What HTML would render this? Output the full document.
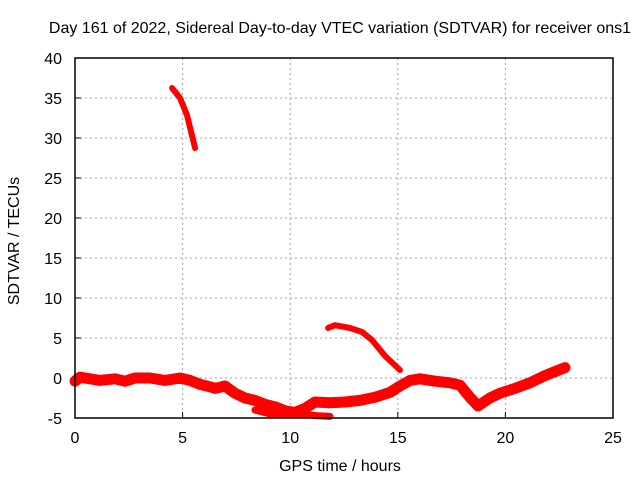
<!DOCTYPE html>
<html><head><meta charset="utf-8"><style>
body{margin:0;background:#fff}
text{font-family:"Liberation Sans",sans-serif;font-size:16px;fill:#000}
</style></head><body>
<svg id="c" width="640" height="480"></svg>
<script>
const xTicks=[0,5,10,15,20,25];
const yTicks=[-5,0,5,10,15,20,25,30,35,40];
const mainT=[0,0.23,0.7,1.16,1.86,2.32,2.79,3.49,4.18,4.88,5.34,5.81,6.27,6.51,6.97,7.43,7.9,8.36,8.83,9.29,9.76,10.22,10.69,11.15,11.85,12.55,13.24,13.94,14.64,15.1,15.57,16.03,16.73,17.43,17.89,18.35,18.73,19.28,19.75,20.45,21.14,21.84,22.3,22.77];
const mainV=[-0.4,0.1,-0.1,-0.3,-0.1,-0.4,0,0,-0.3,0,-0.3,-0.8,-1.1,-1.3,-1.0,-1.9,-2.5,-2.8,-3.3,-3.6,-4.1,-4.3,-3.8,-3.0,-3.1,-3.0,-2.8,-2.4,-1.8,-1.0,-0.3,-0.1,-0.4,-0.6,-0.9,-2.4,-3.5,-2.5,-1.9,-1.3,-0.6,0.3,0.8,1.3];
const lowT=[8.36,9.06,10.46,11.2,11.85];
const lowV=[-4.0,-4.5,-4.5,-4.7,-4.8];
const arcT=[11.76,12.08,12.78,13.34,13.8,14.41,15.1];
const arcV=[6.25,6.6,6.25,5.75,4.75,2.75,1.0];
const topT=[4.51,4.88,5.2,5.58];
const topV=[36.25,35.0,32.9,28.75];
const L=75,R=613,T=58,B=418;
const X=t=>L+(t-0)/25*(R-L);
const Y=v=>B-(v+5)/45*(B-T);
const svg=document.getElementById('c');
const NS='http://www.w3.org/2000/svg';
function mk(tag,attrs,parent){const e=document.createElementNS(NS,tag);for(const k in attrs)e.setAttribute(k,attrs[k]);(parent||svg).appendChild(e);return e;}
xTicks.forEach(t=>{
 if(t>0&&t<25){const g=mk('line',{x1:X(t),x2:X(t),y1:T,y2:B,stroke:'#a0a0a0','stroke-dasharray':'2,3'});
 
 }
 const tk=mk('line',{x1:X(t),x2:X(t),y1:B,y2:B-6,stroke:'#000'});
 
 
 const lb=mk('text',{x:X(t),y:B+25,'text-anchor':'middle'});lb.textContent=t;
 
 
});
yTicks.forEach(v=>{
 if(v>-5&&v<40){const g=mk('line',{x1:L,x2:R,y1:Y(v),y2:Y(v),stroke:'#a0a0a0','stroke-dasharray':'2,3'});
 
 }
 const tk=mk('line',{x1:L,x2:L+6,y1:Y(v),y2:Y(v),stroke:'#000'});
 
 
 const lb=mk('text',{x:L-13,y:Y(v)+6,'text-anchor':'end'});lb.textContent=v;
 
 
});
function series(ts,vs,w,name){
 const p=mk('polyline',{points:ts.map((t,i)=>X(t)+','+Y(vs[i])).join(' '),fill:'none',stroke:'#f00','stroke-width':w,'stroke-linejoin':'round','stroke-linecap':'round'});
 
 
}
series(mainT,mainV,11,'sdtvar-main-band');
series(lowT,lowV,7,'sdtvar-lower-branch');
series(arcT,arcV,6,'sdtvar-arc-segment');
series(topT,topV,6,'sdtvar-top-segment');
const fr=mk('rect',{x:L,y:T,width:R-L,height:B-T,fill:'none',stroke:'#000','stroke-width':1.5});


const ti=mk('text',{x:340,y:33,'text-anchor':'middle'});ti.textContent='Day 161 of 2022, Sidereal Day-to-day VTEC variation (SDTVAR) for receiver ons1';


const xl=mk('text',{x:340,y:471,'text-anchor':'middle'});xl.textContent='GPS time / hours';


const yl=mk('text',{x:19,y:241,'text-anchor':'middle',transform:'rotate(-90 19 241)'});yl.textContent='SDTVAR / TECUs';


</script>
</body></html>
